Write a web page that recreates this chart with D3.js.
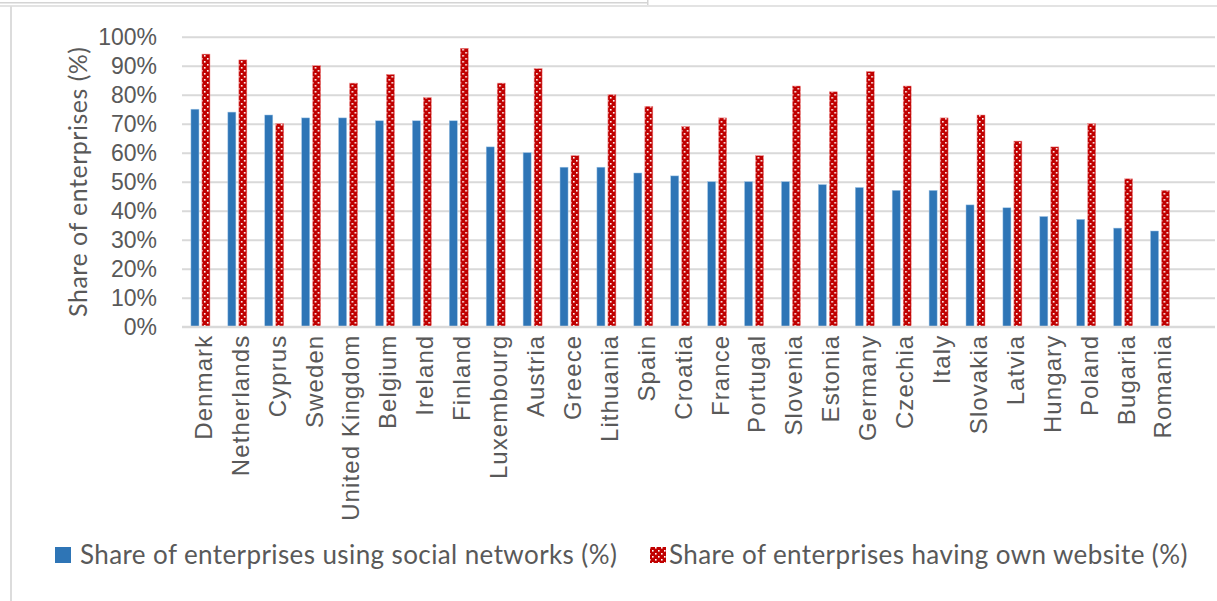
<!DOCTYPE html>
<html><head><meta charset="utf-8">
<script src="https://cdn.jsdelivr.net/npm/d3@7"></script>
<style>
html,body{margin:0;padding:0;background:#fff;}
svg{display:block;font-family:Lato, "Open Sans", sans-serif;}
</style></head>
<body>
<svg id="chart" width="1217" height="601"></svg>
<script>
const countries = ["Denmark","Netherlands","Cyprus","Sweden","United Kingdom","Belgium","Ireland","Finland","Luxembourg","Austria","Greece","Lithuania","Spain","Croatia","France","Portugal","Slovenia","Estonia","Germany","Czechia","Italy","Slovakia","Latvia","Hungary","Poland","Bugaria","Romania"];
const socialNetworks = [75,74,73,72,72,71,71,71,62,60,55,55,53,52,50,50,50,49,48,47,47,42,41,38,37,34,33];
const ownWebsite = [94,92,70,90,84,87,79,96,84,89,59,80,76,69,72,59,83,81,88,83,72,73,64,62,70,51,47];
const yTicks = [0,10,20,30,40,50,60,70,80,90,100];
const seriesNames = ["Share of enterprises using social networks (%)","Share of enterprises having own website (%)"];
const yTitle = "Share of enterprises (%)";

const svg = d3.select("#chart");
const textColor = "#595959";

// frame remnants
svg.append("rect").attr("x",0).attr("y",2).attr("width",648).attr("height",1.5).attr("fill","#d4d4d4");
svg.append("rect").attr("x",647).attr("y",0).attr("width",1.5).attr("height",5).attr("fill","#d4d4d4");
svg.append("rect").attr("x",0).attr("y",5).attr("width",1217).attr("height",2).attr("fill","#e3e3e3");
svg.append("rect").attr("x",10).attr("y",6).attr("width",2).attr("height",595).attr("fill","#dcdcdc");

const defs = svg.append("defs");
const pat = defs.append("pattern").attr("id","dots").attr("patternUnits","userSpaceOnUse")
  .attr("width",6).attr("height",6);
pat.append("rect").attr("width",6).attr("height",6).attr("fill","#C00000");
pat.append("rect").attr("x",1).attr("y",1).attr("width",1.6).attr("height",1.6).attr("fill","#fff");
pat.append("rect").attr("x",4).attr("y",4).attr("width",1.6).attr("height",1.6).attr("fill","#fff");

const plotLeft = 182, plotRightCats = 1178.5, gridRight = 1215;
const y = d3.scaleLinear().domain([0,100]).range([326.7,36.7]);
const x = d3.scaleBand().domain(countries).range([plotLeft, plotRightCats]).paddingInner(0.485).paddingOuter(0.2425);
const xs = d3.scaleBand().domain([0,1]).range([0, x.bandwidth()]).paddingInner(0.27);

// gridlines
const yAxis = d3.axisLeft(y).tickValues(yTicks).tickFormat(d => d + "%").tickSize(-(gridRight - plotLeft)).tickPadding(25);
const gy = svg.append("g").attr("transform",`translate(${plotLeft},0)`).call(yAxis);
gy.select(".domain").remove();
gy.selectAll(".tick line").attr("stroke","#d9d9d9").attr("stroke-width",2);
gy.selectAll(".tick text").attr("fill",textColor).attr("font-size",23).attr("dy","0.36em").attr("x",-25);

// bars
const groups = svg.append("g").selectAll("g").data(countries).join("g")
  .attr("transform", d => `translate(${x(d)},0)`);
groups.append("rect").attr("x", xs(0)).attr("width", xs.bandwidth())
  .attr("y", (d,i) => y(socialNetworks[i])).attr("height", (d,i) => y(0) - y(socialNetworks[i]))
  .attr("fill","#2E75B6").attr("stroke","#9dc3e6").attr("stroke-width",0.5);
groups.append("rect").attr("x", xs(1)).attr("width", xs.bandwidth())
  .attr("y", (d,i) => y(ownWebsite[i])).attr("height", (d,i) => y(0) - y(ownWebsite[i]))
  .attr("fill","url(#dots)").attr("stroke","#e88").attr("stroke-width",0.5);

// x axis
const xAxis = d3.axisBottom(x).tickSize(0).tickPadding(0);
const gx = svg.append("g").attr("transform",`translate(0,${y(0)})`).call(xAxis);
gx.select(".domain").remove();
svg.append("line").attr("x1",plotLeft).attr("x2",gridRight).attr("y1",y(0)).attr("y2",y(0))
  .attr("stroke","#d9d9d9").attr("stroke-width",2);
gx.selectAll(".tick text").attr("fill",textColor).attr("font-size",24)
  .attr("letter-spacing","1.1px")
  .attr("transform","rotate(-90)").attr("text-anchor","end")
  .attr("x",-8).attr("y",3).attr("dy","0.35em");

// y title
svg.append("text").attr("transform","translate(78,181.7) rotate(-90)")
  .attr("text-anchor","middle").attr("dy","0.35em").attr("fill",textColor).attr("font-size",25)
  .attr("letter-spacing","0.5px")
  .text(yTitle);

// legend
const leg = svg.append("g");
leg.append("rect").attr("x",55).attr("y",547).attr("width",16).attr("height",16).attr("fill","#2E75B6");
leg.append("text").attr("x",80).attr("y",555).attr("dy","0.35em").attr("fill",textColor).attr("font-size",26)
  .attr("letter-spacing","0.4px").text(seriesNames[0]);
leg.append("rect").attr("x",650).attr("y",547).attr("width",16).attr("height",16).attr("fill","url(#dots)");
leg.append("text").attr("x",669).attr("y",555).attr("dy","0.35em").attr("fill",textColor).attr("font-size",26)
  .attr("letter-spacing","0.4px").text(seriesNames[1]);
</script>
</body></html>
